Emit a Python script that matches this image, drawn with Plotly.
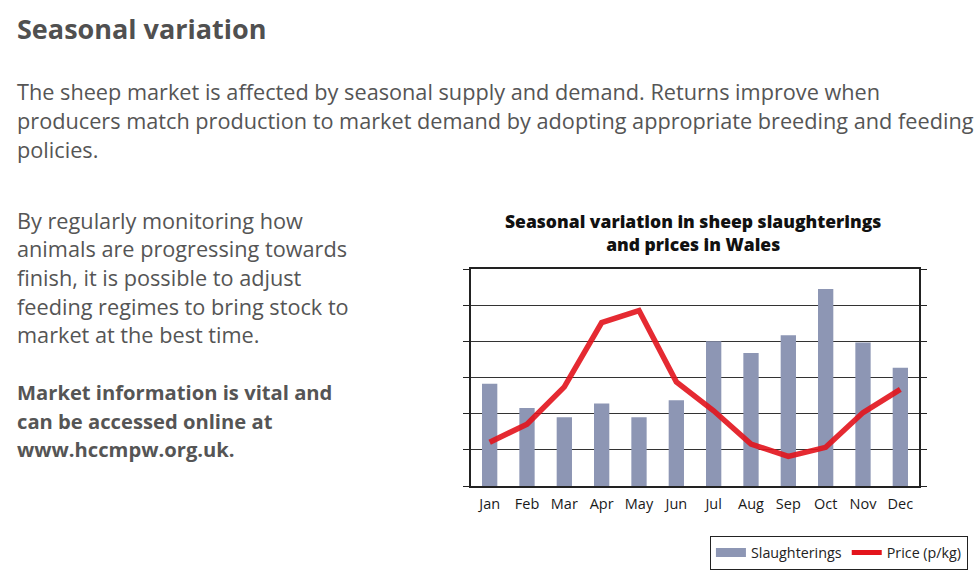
import plotly.graph_objects as go

# Data (values in grid units: the chart has no y labels)
months = ["Jan", "Feb", "Mar", "Apr", "May", "Jun",
          "Jul", "Aug", "Sep", "Oct", "Nov", "Dec"]
slaughterings = [2.83, 2.16, 1.90, 2.28, 1.90, 2.37,
                 4.00, 3.68, 4.17, 5.45, 3.97, 3.27]
price = [1.21, 1.71, 2.74, 4.52, 4.85, 2.88,
         2.08, 1.16, 0.82, 1.07, 2.03, 2.67]

heading = "Seasonal variation"
intro_lines = [
    "The sheep market is affected by seasonal supply and demand. Returns improve when",
    "producers match production to market demand by adopting appropriate breeding and feeding",
    "policies.",
]
side_lines = [
    "By regularly monitoring how",
    "animals are progressing towards",
    "finish, it is possible to adjust",
    "feeding regimes to bring stock to",
    "market at the best time.",
]
bold_lines = [
    "Market information is vital and",
    "can be accessed online at",
    "www.hccmpw.org.uk.",
]
chart_title = "Seasonal variation in sheep slaughterings<br>and prices in Wales"

W, H = 980, 582
L, R, T, B = 471, 59, 269, 95

BAR_COLOR = "#8d96b4"
LINE_COLOR = "#e3141c"
TEXT_GREY = "#555555"
FONT = "Open Sans"
TEXT_X = 13


def px(x):
    # page pixel -> paper x
    return (x - L) / (W - L - R)


def py(y):
    # page pixel -> paper y
    return 1 - (y - T) / (H - T - B)


def note(text, x, y, xanchor="left", **font):
    return dict(text=text, x=px(x), y=py(y), xref="paper", yref="paper",
                xanchor=xanchor, yanchor="middle",
                align="center" if xanchor == "center" else "left",
                showarrow=False, font=dict(family=FONT, **font))


fig = go.Figure()

fig.add_trace(go.Bar(
    x=months, y=slaughterings, name="Slaughterings",
    marker=dict(color=BAR_COLOR, line=dict(width=0)),
    showlegend=False,
))
fig.add_trace(go.Scatter(
    x=months, y=price, name="Price (p/kg)", mode="lines",
    line=dict(color=LINE_COLOR, width=5.5),
    opacity=0.9, showlegend=False,
))

# legend-only entries so the key looks like the original (wide swatch)
fig.add_trace(go.Scatter(
    x=[None], y=[None], mode="lines", name="Slaughterings",
    line=dict(color=BAR_COLOR, width=9),
))
fig.add_trace(go.Scatter(
    x=[None], y=[None], mode="lines", name="Price (p/kg)",
    line=dict(color=LINE_COLOR, width=5),
))

annotations = [note(heading, TEXT_X, 27, size=27, color="#505050", weight="bold")]
for i, line in enumerate(intro_lines):
    annotations.append(note(line, TEXT_X, 91 + 29 * i, size=21.7, color=TEXT_GREY))
for i, line in enumerate(side_lines):
    annotations.append(note(line, TEXT_X, 220 + 28.8 * i, size=21.7, color=TEXT_GREY))
for i, line in enumerate(bold_lines):
    annotations.append(note(line, TEXT_X, 393 + 28.5 * i, size=20.2, color=TEXT_GREY, weight="bold"))
annotations.append(note(chart_title, 694, 232, xanchor="center",
                        size=17.5, color="#111111", weight=800))

fig.update_layout(
    width=W, height=H,
    margin=dict(l=L, r=R, t=T, b=B),
    paper_bgcolor="white", plot_bgcolor="white",
    bargap=0.59,
    font=dict(family=FONT, size=14, color="#222222"),
    annotations=annotations,
    legend=dict(
        orientation="h", x=px(711), y=py(537),
        xanchor="left", yanchor="top",
        bgcolor="white", bordercolor="#222222", borderwidth=1,
        font=dict(family=FONT, size=14.3, color="#222222"),
    ),
)

fig.update_xaxes(
    showline=True, linecolor="#222222", linewidth=1.5, mirror=True,
    ticks="", showgrid=False, tickangle=0, ticklabelstandoff=4,
    tickfont=dict(family=FONT, size=14.5, color="#1a1a1a"),
)
fig.update_yaxes(
    range=[0, 6], dtick=1, showticklabels=False,
    showgrid=True, gridcolor="#333333", gridwidth=1,
    showline=True, linecolor="#222222", linewidth=1.5, mirror="ticks",
    ticks="outside", ticklen=6, tickcolor="#222222", zeroline=False,
)

fig.write_html("out.html", config={"displayModeBar": False},
               post_script="document.body.style.margin='0';")
